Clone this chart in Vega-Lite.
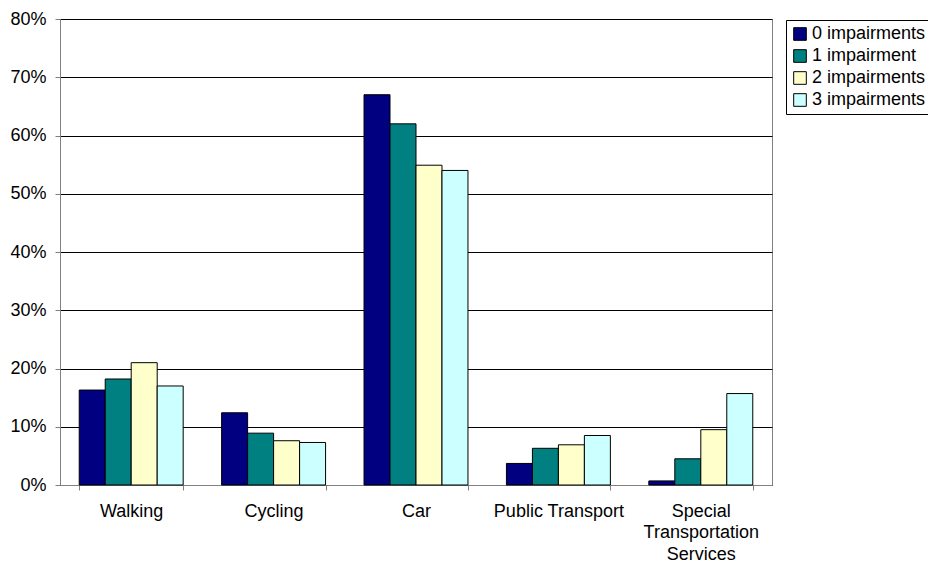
{
  "$schema": "https://vega.github.io/schema/vega-lite/v6.json",
  "width": 712,
  "height": 466,
  "autosize": {"type": "none"},
  "padding": {"left": 60, "top": 19, "right": 156, "bottom": 78},
  "background": "white",
  "config": {
    "font": "Liberation Sans",
    "view": {"stroke": "#808080", "strokeWidth": 1}
  },
  "data": {
    "values": [
      {"mode": "Walking", "group": "0 impairments", "pct": 16.3},
      {"mode": "Walking", "group": "1 impairment", "pct": 18.2},
      {"mode": "Walking", "group": "2 impairments", "pct": 21.0},
      {"mode": "Walking", "group": "3 impairments", "pct": 17.0},
      {"mode": "Cycling", "group": "0 impairments", "pct": 12.4},
      {"mode": "Cycling", "group": "1 impairment", "pct": 8.9},
      {"mode": "Cycling", "group": "2 impairments", "pct": 7.6},
      {"mode": "Cycling", "group": "3 impairments", "pct": 7.3},
      {"mode": "Car", "group": "0 impairments", "pct": 67.0},
      {"mode": "Car", "group": "1 impairment", "pct": 62.0},
      {"mode": "Car", "group": "2 impairments", "pct": 54.9},
      {"mode": "Car", "group": "3 impairments", "pct": 54.0},
      {"mode": "Public Transport", "group": "0 impairments", "pct": 3.7},
      {"mode": "Public Transport", "group": "1 impairment", "pct": 6.3},
      {"mode": "Public Transport", "group": "2 impairments", "pct": 6.9},
      {"mode": "Public Transport", "group": "3 impairments", "pct": 8.5},
      {"mode": "Special Transportation Services", "group": "0 impairments", "pct": 0.7},
      {"mode": "Special Transportation Services", "group": "1 impairment", "pct": 4.5},
      {"mode": "Special Transportation Services", "group": "2 impairments", "pct": 9.5},
      {"mode": "Special Transportation Services", "group": "3 impairments", "pct": 15.7}
    ]
  },
  "mark": {"type": "bar", "stroke": "#000000", "strokeWidth": 1},
  "encoding": {
    "x": {
      "field": "mode",
      "type": "nominal",
      "sort": ["Walking", "Cycling", "Car", "Public Transport", "Special Transportation Services"],
      "scale": {"paddingInner": 0.27, "paddingOuter": 0.135},
      "axis": {
        "title": null,
        "labelAngle": 0,
        "labelFontSize": 18,
        "labelColor": "#000000",
        "labelPadding": 12,
        "labelLineHeight": 21.7,
        "labelExpr": "datum.value == 'Special Transportation Services' ? ['Special', 'Transportation', 'Services'] : datum.value",
        "domainColor": "#808080",
        "tickColor": "#808080",
        "tickSize": 5,
        "tickBand": "extent",
        "grid": false
      }
    },
    "xOffset": {
      "field": "group",
      "type": "nominal",
      "sort": ["0 impairments", "1 impairment", "2 impairments", "3 impairments"],
      "scale": {"paddingInner": 0, "paddingOuter": 0}
    },
    "y": {
      "field": "pct",
      "type": "quantitative",
      "scale": {"domain": [0, 80], "nice": false},
      "axis": {
        "title": null,
        "values": [0, 10, 20, 30, 40, 50, 60, 70, 80],
        "labelExpr": "datum.value + '%'",
        "labelFontSize": 18,
        "labelColor": "#000000",
        "labelPadding": 9,
        "grid": true,
        "gridColor": "#000000",
        "gridWidth": 1,
        "domainColor": "#808080",
        "tickColor": "#808080",
        "tickSize": 5
      }
    },
    "color": {
      "field": "group",
      "type": "nominal",
      "sort": ["0 impairments", "1 impairment", "2 impairments", "3 impairments"],
      "scale": {
        "domain": ["0 impairments", "1 impairment", "2 impairments", "3 impairments"],
        "range": ["#000080", "#008080", "#FFFFCC", "#CCFFFF"]
      },
      "legend": {
        "title": null,
        "orient": "none",
        "legendX": 726,
        "legendY": 1,
        "strokeColor": "#000000",
        "fillColor": "#ffffff",
        "padding": 5,
        "symbolType": "square",
        "symbolSize": 160,
        "symbolStrokeColor": "#000000",
        "symbolStrokeWidth": 1,
        "symbolOpacity": 1,
        "labelFontSize": 18,
        "labelColor": "#000000",
        "labelOffset": 3,
        "rowPadding": 4,
        "labelLimit": 300
      }
    }
  }
}
